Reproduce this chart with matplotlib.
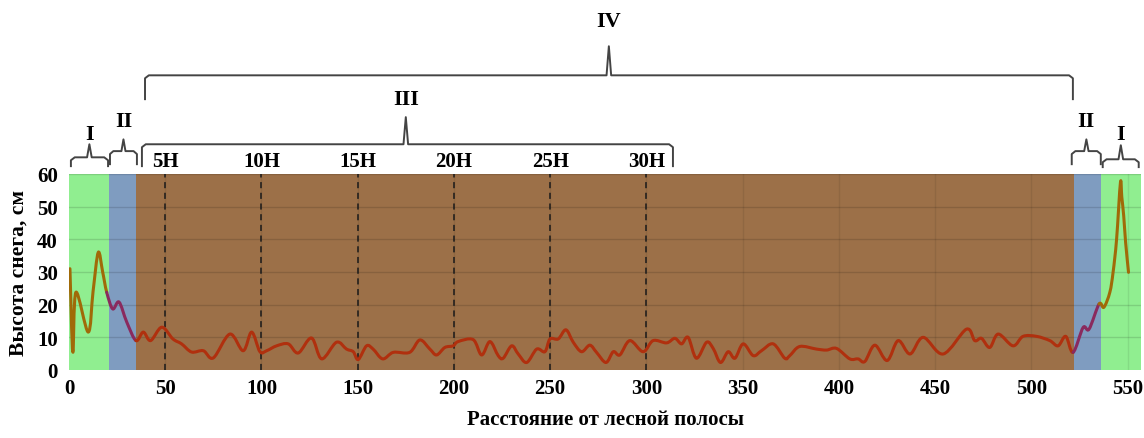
import matplotlib
matplotlib.use("Agg")
import matplotlib.pyplot as plt
import numpy as np
from matplotlib.path import Path
from matplotlib.patches import PathPatch

# ---- data ----
distance = [0.5, 2, 3.6, 10, 12.5, 15.2, 17.5, 19.6, 22.7, 26, 30, 34.8, 38.6, 42.4, 48.2, 54, 58.5,
            63.7, 69.8, 75, 83.6, 90.5, 94.9, 99.2, 102.7, 107.9, 113.9, 119.1, 126, 131.3, 139,
            144.2, 147.7, 150.3, 154.6, 158, 163, 168.5, 177, 182.3, 187.5, 191, 195.3, 199.6,
            202.2, 210, 214.4, 218.7, 223, 225.6, 230, 233.4, 237.8, 243, 247.3, 249.9, 254.2,
            258.2, 262, 266.3, 270.6, 274.1, 279, 282.8, 286.2, 291.4, 298.3, 303.5, 310.5,
            314.8, 318.3, 321.7, 326, 331.3, 334.7, 338.5, 342.5, 346, 350.3, 355.5, 359.8,
            365.9, 371.9, 374.5, 379.7, 388.4, 393.6, 398.8, 405.7, 410, 413.5, 418.7, 425.1,
            430.8, 437, 443.8, 454.2, 466.3, 470.6, 474.1, 478.4, 482.8, 490.5, 495.7, 502.7,
            509.6, 513.9, 517.9, 521.7, 526.9, 530, 535.2, 537.7, 540.8, 542.5, 544.3, 546.3,
            547, 548, 549, 550.5]
snow_height = [31, 5.5, 23.8, 11.6, 24, 36, 30, 23.8, 18.7, 20.8, 14.7, 9, 11.6, 9, 13.1, 9.5, 8,
               5.5, 5.9, 3.7, 11, 5.9, 11.6, 5.6, 5.9, 7.4, 8, 5.2, 9.8, 3.4, 8.5,
               6.4, 5.6, 3.2, 7.4, 6.4, 3.4, 5.4, 5.4, 9.2, 6.4, 4.6, 6.9, 7.4,
               8.7, 9.3, 4.6, 8.7, 4.4, 3.6, 7.4, 4.9, 2.3, 6.4, 5.6, 9.5, 9.5,
               12.3, 8.5, 5.6, 7.6, 5.4, 2.3, 5.6, 4.6, 9, 5.6, 9, 8.3,
               9.7, 8, 10, 3.6, 8.5, 6.6, 2.3, 5.6, 3.6, 8, 4.4, 5.9,
               8, 3.6, 4.4, 7.2, 6.4, 6.1, 6.6, 3.4, 3.4, 2.6, 7.6, 2.9,
               9, 4.9, 10, 4.9, 12.5, 9, 9.7, 6.9, 11, 7.4, 10.3, 10.3,
               9, 7.4, 10.3, 5.4, 13, 12.5, 20.2, 19.2, 23.8, 30, 40, 57.4,
               53, 47.2, 39, 29.9]

zone_edges = [0, 21, 35, 522, 536, 557]
zone_fill = ["#90ee90", "#7f9cc0", "#9c7048", "#7f9cc0", "#90ee90"]
zone_line = ["#a06a08", "#8a2a5e", "#b0300e", "#8a2a5e", "#a06a08"]

h_marks = [50, 100, 150, 200, 250, 300]
h_labels = ["5Н", "10Н", "15Н", "20Н", "25Н", "30Н"]

x_ticks = list(range(0, 551, 50))
y_ticks = list(range(0, 61, 10))

# brackets: (x0, x1, x_tip, y_line, y_end, y_tip, label, y_label)
brackets = [
    (1.0, 20.3, 10.6, 65.1, 62.4, 69.1, "I", 72.2),
    (21.3, 35.3, 28.3, 67.0, 63.0, 70.6, "II", 76.1),
    (37.9, 313.8, 175.0, 69.1, 62.4, 77.4, "III", 82.9),
    (39.5, 521.6, 280.5, 90.2, 82.9, 99.1, "IV", 106.7),
    (521.0, 536.1, 528.6, 67.0, 63.0, 70.6, "II", 76.1),
    (537.1, 555.8, 546.5, 64.5, 62.1, 68.8, "I", 72.2),
]

serif = ["Liberation Serif", "DejaVu Serif"]

fig = plt.figure(figsize=(11.44, 4.39), dpi=100)
ax = fig.add_axes([0.0603, 0.1549, 0.9371, 0.4465])
ax.set_xlim(0, 557)
ax.set_ylim(0, 60)

for i in range(len(zone_fill)):
    ax.axvspan(zone_edges[i], zone_edges[i + 1], color=zone_fill[i], zorder=0, lw=0)

for y in y_ticks[1:]:
    ax.axhline(y, color="black", alpha=0.13, lw=1.0, zorder=1)
for x in x_ticks[1:]:
    ax.axvline(x, color="black", alpha=0.08, lw=1.0, zorder=1)

for x in h_marks:
    ax.axvline(x, color="#1a1a1a", lw=1.1, ls=(0, (4, 3)), zorder=2)

# smoothed (Excel-style) curve drawn as cubic Bezier segments, coloured by zone
P = np.column_stack([distance, snow_height]).astype(float)
n = len(P)
tension = 1.0 / 6.0
order = []
for i in range(n - 1):
    p0 = P[max(i - 1, 0)]
    p1 = P[i]
    p2 = P[i + 1]
    p3 = P[min(i + 2, n - 1)]
    c1 = p1 + (p2 - p0) * tension
    c2 = p2 - (p3 - p1) * tension
    mid = (p1[0] + p2[0]) / 2
    z = min(int(np.searchsorted(zone_edges, mid, side="right")) - 1, 4)
    col = zone_line[z]
    if not order or order[-1][0] != col:
        order.append([col, [p1], [Path.MOVETO]])
    order[-1][1].extend([c1, c2, p2])
    order[-1][2].extend([Path.CURVE4] * 3)
for col, verts, codes in order:
    patch = PathPatch(Path(np.array(verts), codes), facecolor="none", edgecolor=col,
                      lw=2.2, capstyle="round", joinstyle="round", zorder=3)
    ax.add_patch(patch)

for x, lab in zip(h_marks, h_labels):
    ax.text(x, 63.9, lab, ha="center", va="center", fontsize=15, fontweight="bold",
            family=serif, clip_on=False)

def bracket(x0, x1, xt, yl, ye, yt, lab, ylab):
    r = min(2.0, (x1 - x0) / 8)
    xs = [x0, x0, x0 + r, xt - r * 0.6, xt, xt + r * 0.6, x1 - r, x1, x1]
    ys = [ye, yl - 0.9, yl, yl, yt, yl, yl, yl - 0.9, ye]
    ax.plot(xs, ys, color="#444444", lw=1.4, clip_on=False, zorder=4, solid_joinstyle="round")
    ax.text(xt, ylab, lab, ha="center", va="center", fontsize=16, fontweight="bold",
            family=serif, clip_on=False)

for b in brackets:
    bracket(*b)

ax.set_xticks(x_ticks)
ax.set_yticks(y_ticks)
ax.tick_params(length=0, labelsize=15)
ax.tick_params(axis="x", pad=6)
ax.tick_params(axis="y", pad=8)
for lab in ax.get_xticklabels() + ax.get_yticklabels():
    lab.set_fontfamily(serif)
    lab.set_fontweight("bold")
for s in ax.spines.values():
    s.set_visible(False)

ax.set_xlabel("Расстояние от лесной полосы", fontsize=15, fontweight="bold", family=serif, labelpad=8)
ax.set_ylabel("Высота снега, см", fontsize=15.5, fontweight="bold", family=serif, labelpad=6)

fig.savefig("out.png", dpi=100)
